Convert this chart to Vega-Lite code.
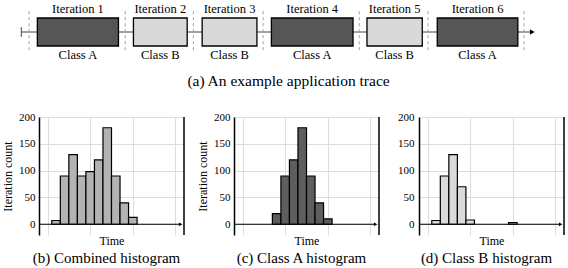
{
  "$schema": "https://vega.github.io/schema/vega-lite/v6.json",
  "padding": {"left": 1, "top": 3, "right": 0, "bottom": 0},
  "background": "white",
  "config": {
    "font": "Liberation Serif, DejaVu Serif, Noto Serif, serif",
    "view": {"stroke": null},
    "text": {"font": "Liberation Serif, DejaVu Serif, Noto Serif, serif"},
    "title": {"font": "Liberation Serif, DejaVu Serif, Noto Serif, serif", "fontWeight": "normal", "fontSize": 15, "color": "black"},
    "axis": {"labelFont": "Liberation Serif, DejaVu Serif, Noto Serif, serif", "titleFont": "Liberation Serif, DejaVu Serif, Noto Serif, serif", "labelColor": "black", "titleColor": "black", "titleFontWeight": "normal", "labelFontSize": 11, "titleFontSize": 12, "labelOverlap": false, "gridColor": "#d9d9d9", "gridWidth": 0.9}
  },
  "datasets": {
    "trace": [
      {"iter": "Iteration 1", "cls": "Class A", "start": 3.1, "end": 18.8, "mid": 10.95},
      {"iter": "Iteration 2", "cls": "Class B", "start": 21.7, "end": 32.1, "mid": 26.9},
      {"iter": "Iteration 3", "cls": "Class B", "start": 35.0, "end": 45.6, "mid": 40.3},
      {"iter": "Iteration 4", "cls": "Class A", "start": 48.4, "end": 64.2, "mid": 56.3},
      {"iter": "Iteration 5", "cls": "Class B", "start": 66.9, "end": 77.6, "mid": 72.25},
      {"iter": "Iteration 6", "cls": "Class A", "start": 80.5, "end": 96.1, "mid": 88.3}
    ],
    "bounds": [{"t": 1.5}, {"t": 20.1}, {"t": 33.3}, {"t": 46.8}, {"t": 65.4}, {"t": 78.7}, {"t": 97.3}],
    "hist": [
      {"panel": "combined", "b0": 0.5, "b1": 1.5, "count": 7},
      {"panel": "combined", "b0": 1.5, "b1": 2.5, "count": 90},
      {"panel": "combined", "b0": 2.5, "b1": 3.5, "count": 130},
      {"panel": "combined", "b0": 3.5, "b1": 4.5, "count": 90},
      {"panel": "combined", "b0": 4.5, "b1": 5.5, "count": 98},
      {"panel": "combined", "b0": 5.5, "b1": 6.5, "count": 120},
      {"panel": "combined", "b0": 6.5, "b1": 7.5, "count": 180},
      {"panel": "combined", "b0": 7.5, "b1": 8.5, "count": 90},
      {"panel": "combined", "b0": 8.5, "b1": 9.5, "count": 40},
      {"panel": "combined", "b0": 9.5, "b1": 10.5, "count": 13},
      {"panel": "A", "b0": 3.5, "b1": 4.5, "count": 20},
      {"panel": "A", "b0": 4.5, "b1": 5.5, "count": 90},
      {"panel": "A", "b0": 5.5, "b1": 6.5, "count": 120},
      {"panel": "A", "b0": 6.5, "b1": 7.5, "count": 180},
      {"panel": "A", "b0": 7.5, "b1": 8.5, "count": 90},
      {"panel": "A", "b0": 8.5, "b1": 9.5, "count": 40},
      {"panel": "A", "b0": 9.5, "b1": 10.5, "count": 10},
      {"panel": "B", "b0": 0.5, "b1": 1.5, "count": 7},
      {"panel": "B", "b0": 1.5, "b1": 2.5, "count": 90},
      {"panel": "B", "b0": 2.5, "b1": 3.5, "count": 130},
      {"panel": "B", "b0": 3.5, "b1": 4.5, "count": 70},
      {"panel": "B", "b0": 4.5, "b1": 5.5, "count": 8},
      {"panel": "B", "b0": 9.5, "b1": 10.5, "count": 3}
    ],
    "frame": [{"x0": -1, "x1": 16, "xa": 15.6, "ylo": -20, "yhi": 200}]
  },
  "vconcat": [
    {
      "width": 499,
      "height": 28,
      "title": {"text": "(a) An example application trace", "orient": "bottom", "offset": 12, "fontSize": 15.5},
      "layer": [
        {
          "data": {"values": [{"t0": 0, "t1": 99}]},
          "mark": {"type": "rule", "color": "#444", "strokeWidth": 1},
          "encoding": {
            "x": {"field": "t0", "type": "quantitative", "scale": {"domain": [3.42, 100], "nice": false, "zero": false}, "axis": null},
            "x2": {"field": "t1"},
            "y": {"datum": 0, "type": "quantitative", "scale": {"domain": [-1, 1], "nice": false}, "axis": null}
          }
        },
        {
          "data": {"values": [{"t0": 0}]},
          "mark": {"type": "rule", "color": "#444", "strokeWidth": 1},
          "encoding": {
            "x": {"field": "t0", "type": "quantitative", "axis": null},
            "y": {"datum": -0.35, "type": "quantitative", "axis": null},
            "y2": {"datum": 0.35}
          }
        },
        {
          "data": {"values": [{"t0": 98.9}]},
          "mark": {"type": "point", "shape": "triangle-right", "filled": true, "color": "black", "size": 30, "opacity": 1},
          "encoding": {
            "x": {"field": "t0", "type": "quantitative", "axis": null},
            "y": {"datum": 0, "type": "quantitative", "axis": null}
          }
        },
        {
          "data": {"name": "bounds"},
          "mark": {"type": "rule", "color": "#a0a0a0", "strokeWidth": 1, "strokeDash": [3, 3]},
          "encoding": {
            "x": {"field": "t", "type": "quantitative", "axis": null},
            "y": {"datum": -1.3, "type": "quantitative", "axis": null},
            "y2": {"datum": 1.65}
          }
        },
        {
          "data": {"name": "trace"},
          "mark": {"type": "rect", "stroke": "black", "strokeWidth": 1.3},
          "encoding": {
            "x": {"field": "start", "type": "quantitative", "axis": null},
            "x2": {"field": "end"},
            "y": {"datum": -1, "type": "quantitative", "axis": null},
            "y2": {"datum": 1},
            "fill": {"field": "cls", "type": "nominal", "scale": {"domain": ["Class A", "Class B"], "range": ["#565656", "#d9d9d9"]}, "legend": null}
          }
        },
        {
          "data": {"name": "trace"},
          "mark": {"type": "text", "fontSize": 12.5, "dy": -8.7, "baseline": "middle", "color": "black"},
          "encoding": {
            "x": {"field": "mid", "type": "quantitative", "axis": null},
            "y": {"datum": 1, "type": "quantitative", "axis": null},
            "text": {"field": "iter"}
          }
        },
        {
          "data": {"name": "trace"},
          "mark": {"type": "text", "fontSize": 12.5, "dy": 9, "baseline": "middle", "color": "black"},
          "encoding": {
            "x": {"field": "mid", "type": "quantitative", "axis": null},
            "y": {"datum": -1, "type": "quantitative", "axis": null},
            "text": {"field": "cls"}
          }
        }
      ]
    },
    {
      "hconcat": [
        {
          "width": 145, "height": 118,
          "title": {"text": "(b) Combined histogram", "orient": "bottom", "offset": 5, "dx": -5},
          "layer": [
            {
              "data": {"name": "hist"},
              "transform": [{"filter": "datum.panel == 'combined'"}],
              "mark": {"type": "rect", "stroke": "black", "strokeWidth": 1.2, "fill": "#b3b3b3"},
              "encoding": {
                "x": {"field": "b0", "type": "quantitative", "scale": {"domain": [-1, 16], "nice": false, "zero": false}, "axis": {"values": [0, 5, 10, 15], "labels": false, "ticks": false, "domain": false, "grid": true, "title": "Time", "titlePadding": 0}},
                "x2": {"field": "b1"},
                "y": {"field": "count", "type": "quantitative", "scale": {"domain": [-20, 200], "nice": false, "zero": false}, "axis": {"values": [0, 50, 100, 150, 200], "labelOverlap": false, "ticks": false, "grid": true, "domainColor": "black", "domainWidth": 1.5, "labelPadding": 4, "title": "Iteration count", "titlePadding": 4}},
                "y2": {"datum": 0}
              }
            },
            {
              "data": {"name": "frame"},
              "mark": {"type": "rule", "color": "black", "strokeWidth": 1.2},
              "encoding": {
                "x": {"field": "x0", "type": "quantitative", "axis": {"values": [0, 5, 10, 15], "labels": false, "ticks": false, "domain": false, "grid": true, "title": "Time", "titlePadding": 0}},
                "x2": {"field": "xa"},
                "y": {"datum": 0, "type": "quantitative", "axis": {"values": [0, 50, 100, 150, 200], "labelOverlap": false, "ticks": false, "grid": true, "domainColor": "black", "domainWidth": 1.5, "labelPadding": 4, "title": "Iteration count", "titlePadding": 4}}
              }
            },
            {
              "data": {"name": "frame"},
              "mark": {"type": "point", "shape": "triangle-right", "filled": true, "color": "black", "size": 14, "opacity": 1},
              "encoding": {
                "x": {"field": "xa", "type": "quantitative", "axis": {"values": [0, 5, 10, 15], "labels": false, "ticks": false, "domain": false, "grid": true, "title": "Time", "titlePadding": 0}},
                "y": {"datum": 0, "type": "quantitative", "axis": {"values": [0, 50, 100, 150, 200], "labelOverlap": false, "ticks": false, "grid": true, "domainColor": "black", "domainWidth": 1.5, "labelPadding": 4, "title": "Iteration count", "titlePadding": 4}}
              }
            },
            {
              "data": {"name": "frame"},
              "mark": {"type": "rule", "color": "black", "strokeWidth": 1.5},
              "encoding": {
                "x": {"field": "x1", "type": "quantitative", "axis": {"values": [0, 5, 10, 15], "labels": false, "ticks": false, "domain": false, "grid": true, "title": "Time", "titlePadding": 0}},
                "y": {"field": "ylo", "type": "quantitative", "axis": {"values": [0, 50, 100, 150, 200], "labelOverlap": false, "ticks": false, "grid": true, "domainColor": "black", "domainWidth": 1.5, "labelPadding": 4, "title": "Iteration count", "titlePadding": 4}},
                "y2": {"field": "yhi"}
              }
            }
          ]
        },
        {
          "width": 145, "height": 118,
          "title": {"text": "(c) Class A histogram", "orient": "bottom", "offset": 5, "dx": -5},
          "layer": [
            {
              "data": {"name": "hist"},
              "transform": [{"filter": "datum.panel == 'A'"}],
              "mark": {"type": "rect", "stroke": "black", "strokeWidth": 1.2, "fill": "#5e5e5e"},
              "encoding": {
                "x": {"field": "b0", "type": "quantitative", "scale": {"domain": [-1, 16], "nice": false, "zero": false}, "axis": {"values": [0, 5, 10, 15], "labels": false, "ticks": false, "domain": false, "grid": true, "title": "Time", "titlePadding": 0}},
                "x2": {"field": "b1"},
                "y": {"field": "count", "type": "quantitative", "scale": {"domain": [-20, 200], "nice": false, "zero": false}, "axis": {"values": [0, 50, 100, 150, 200], "labelOverlap": false, "ticks": false, "grid": true, "domainColor": "black", "domainWidth": 1.5, "labelPadding": 4, "title": "Iteration count", "titlePadding": 4}},
                "y2": {"datum": 0}
              }
            },
            {
              "data": {"name": "frame"},
              "mark": {"type": "rule", "color": "black", "strokeWidth": 1.2},
              "encoding": {
                "x": {"field": "x0", "type": "quantitative", "axis": {"values": [0, 5, 10, 15], "labels": false, "ticks": false, "domain": false, "grid": true, "title": "Time", "titlePadding": 0}},
                "x2": {"field": "xa"},
                "y": {"datum": 0, "type": "quantitative", "axis": {"values": [0, 50, 100, 150, 200], "labelOverlap": false, "ticks": false, "grid": true, "domainColor": "black", "domainWidth": 1.5, "labelPadding": 4, "title": "Iteration count", "titlePadding": 4}}
              }
            },
            {
              "data": {"name": "frame"},
              "mark": {"type": "point", "shape": "triangle-right", "filled": true, "color": "black", "size": 14, "opacity": 1},
              "encoding": {
                "x": {"field": "xa", "type": "quantitative", "axis": {"values": [0, 5, 10, 15], "labels": false, "ticks": false, "domain": false, "grid": true, "title": "Time", "titlePadding": 0}},
                "y": {"datum": 0, "type": "quantitative", "axis": {"values": [0, 50, 100, 150, 200], "labelOverlap": false, "ticks": false, "grid": true, "domainColor": "black", "domainWidth": 1.5, "labelPadding": 4, "title": "Iteration count", "titlePadding": 4}}
              }
            },
            {
              "data": {"name": "frame"},
              "mark": {"type": "rule", "color": "black", "strokeWidth": 1.5},
              "encoding": {
                "x": {"field": "x1", "type": "quantitative", "axis": {"values": [0, 5, 10, 15], "labels": false, "ticks": false, "domain": false, "grid": true, "title": "Time", "titlePadding": 0}},
                "y": {"field": "ylo", "type": "quantitative", "axis": {"values": [0, 50, 100, 150, 200], "labelOverlap": false, "ticks": false, "grid": true, "domainColor": "black", "domainWidth": 1.5, "labelPadding": 4, "title": "Iteration count", "titlePadding": 4}},
                "y2": {"field": "yhi"}
              }
            }
          ]
        },
        {
          "width": 145, "height": 118,
          "title": {"text": "(d) Class B histogram", "orient": "bottom", "offset": 5, "dx": -5},
          "layer": [
            {
              "data": {"name": "hist"},
              "transform": [{"filter": "datum.panel == 'B'"}],
              "mark": {"type": "rect", "stroke": "black", "strokeWidth": 1.2, "fill": "#dadada"},
              "encoding": {
                "x": {"field": "b0", "type": "quantitative", "scale": {"domain": [-1, 16], "nice": false, "zero": false}, "axis": {"values": [0, 5, 10, 15], "labels": false, "ticks": false, "domain": false, "grid": true, "title": "Time", "titlePadding": 0}},
                "x2": {"field": "b1"},
                "y": {"field": "count", "type": "quantitative", "scale": {"domain": [-20, 200], "nice": false, "zero": false}, "axis": {"values": [0, 50, 100, 150, 200], "labelOverlap": false, "ticks": false, "grid": true, "domainColor": "black", "domainWidth": 1.5, "labelPadding": 5, "minExtent": 28, "title": null}},
                "y2": {"datum": 0}
              }
            },
            {
              "data": {"name": "frame"},
              "mark": {"type": "rule", "color": "black", "strokeWidth": 1.2},
              "encoding": {
                "x": {"field": "x0", "type": "quantitative", "axis": {"values": [0, 5, 10, 15], "labels": false, "ticks": false, "domain": false, "grid": true, "title": "Time", "titlePadding": 0}},
                "x2": {"field": "xa"},
                "y": {"datum": 0, "type": "quantitative", "axis": {"values": [0, 50, 100, 150, 200], "labelOverlap": false, "ticks": false, "grid": true, "domainColor": "black", "domainWidth": 1.5, "labelPadding": 5, "minExtent": 28, "title": null}}
              }
            },
            {
              "data": {"name": "frame"},
              "mark": {"type": "point", "shape": "triangle-right", "filled": true, "color": "black", "size": 14, "opacity": 1},
              "encoding": {
                "x": {"field": "xa", "type": "quantitative", "axis": {"values": [0, 5, 10, 15], "labels": false, "ticks": false, "domain": false, "grid": true, "title": "Time", "titlePadding": 0}},
                "y": {"datum": 0, "type": "quantitative", "axis": {"values": [0, 50, 100, 150, 200], "labelOverlap": false, "ticks": false, "grid": true, "domainColor": "black", "domainWidth": 1.5, "labelPadding": 5, "minExtent": 28, "title": null}}
              }
            },
            {
              "data": {"name": "frame"},
              "mark": {"type": "rule", "color": "black", "strokeWidth": 1.5},
              "encoding": {
                "x": {"field": "x1", "type": "quantitative", "axis": {"values": [0, 5, 10, 15], "labels": false, "ticks": false, "domain": false, "grid": true, "title": "Time", "titlePadding": 0}},
                "y": {"field": "ylo", "type": "quantitative", "axis": {"values": [0, 50, 100, 150, 200], "labelOverlap": false, "ticks": false, "grid": true, "domainColor": "black", "domainWidth": 1.5, "labelPadding": 5, "minExtent": 28, "title": null}},
                "y2": {"field": "yhi"}
              }
            }
          ]
        }
      ],
      "spacing": 11
    }
  ],
  "spacing": 22
}
